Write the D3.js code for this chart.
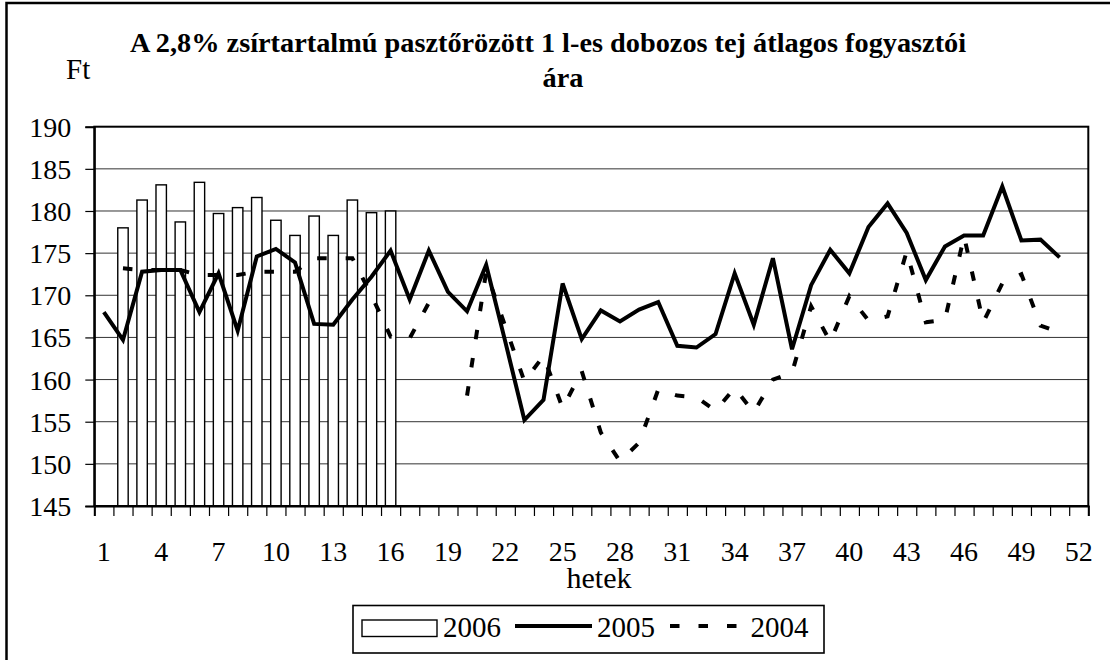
<!DOCTYPE html>
<html>
<head>
<meta charset="utf-8">
<script src="https://cdn.jsdelivr.net/npm/d3@7/dist/d3.min.js"></script>
<style>
  html, body { margin: 0; padding: 0; background: #fff; }
  svg { display: block; }
</style>
</head>
<body>
<svg id="chart" width="1110" height="660"></svg>
<script>
// ---------- DATA ----------
const weeks = [1,2,3,4,5,6,7,8,9,10,11,12,13,14,15,16,17,18,19,20,21,22,23,24,25,26,
               27,28,29,30,31,32,33,34,35,36,37,38,39,40,41,42,43,44,45,46,47,48,49,50,51,52];
const xTickLabels = [1,4,7,10,13,16,19,22,25,28,31,34,37,40,43,46,49,52];
const yTicks = [145,150,155,160,165,170,175,180,185,190];

const v2006 = [null,178.0,181.3,183.1,178.7,183.4,179.7,180.4,181.6,178.9,
               177.1,179.4,177.1,181.3,179.8,180.0,null,null,null,null,
               null,null,null,null,null,null,null,null,null,null,
               null,null,null,null,null,null,null,null,null,null,
               null,null,null,null,null,null,null,null,null,null,
               null,null];
const v2005 = [168.0,164.7,172.8,173.0,173.0,168.0,172.6,165.8,174.6,175.5,
               173.9,166.6,166.5,169.5,172.2,175.3,169.5,175.3,170.4,168.1,
               173.6,164.5,155.2,157.6,171.4,164.8,168.2,166.9,168.3,169.2,
               164.0,163.8,165.4,172.6,166.5,174.4,163.6,171.2,175.4,172.6,
               178.1,180.9,177.4,171.8,175.8,177.1,177.1,182.9,176.5,176.6,
               174.5,null];
const v2004 = [null,173.2,173.0,173.0,173.0,172.4,172.4,172.4,172.8,172.8,
               172.8,174.4,174.4,174.4,170.0,165.1,164.9,169.1,null,158.1,
               172.8,166.3,159.8,162.8,156.6,161.0,153.7,150.3,152.5,158.8,
               158.1,157.9,156.3,159.0,156.1,160.0,160.8,168.7,164.5,169.9,
               167.0,167.5,175.2,166.8,167.1,177.0,166.8,171.4,172.5,166.4,
               165.6,null];
const seriesNames = ["2006","2005","2004"];
const titleLines = ["A 2,8% zsírtartalmú pasztőrözött 1 l-es dobozos tej átlagos fogyasztói", "ára"];
const yAxisTitle = "Ft";
const xAxisTitle = "hetek";

// ---------- LAYOUT ----------
const FONT = "'Liberation Serif', 'Tinos', 'Times New Roman'";
const svg = d3.select("#chart");
const L = 94.3, R = 1088.3, T = 126.7, B = 506;

const x = d3.scaleBand().domain(weeks).range([L, R])
  .paddingInner(0.455).paddingOuter(0.2275);
const xc = w => x(w) + x.bandwidth() / 2;
const xEdge = d3.scaleLinear().domain([0, weeks.length]).range([L, R]);
const y = d3.scaleLinear().domain([145, 190]).range([B, T]);

// outer frame
svg.append("rect").attr("x", 6.5).attr("y", 3).attr("width", 1200).attr("height", 800)
  .attr("fill", "none").attr("stroke", "#000").attr("stroke-width", 2.5);

// gridlines
svg.append("g").selectAll("line").data(yTicks.filter(t => t > 145 && t < 190)).join("line")
  .attr("x1", L).attr("x2", R).attr("y1", d => y(d)).attr("y2", d => y(d))
  .attr("stroke", "#333").attr("stroke-width", 1);

// bars (2006)
const barData = weeks.map((w, i) => ({w, v: v2006[i]})).filter(d => d.v != null);
svg.append("g").selectAll("rect").data(barData).join("rect")
  .attr("x", d => x(d.w)).attr("width", x.bandwidth())
  .attr("y", d => y(d.v)).attr("height", d => B - y(d.v))
  .attr("fill", "#fff").attr("stroke", "#000").attr("stroke-width", 1.4);

// lines
const line = d3.line().defined(d => d.v != null).x(d => xc(d.w)).y(d => y(d.v));
svg.append("path").datum(weeks.map((w, i) => ({w, v: v2004[i]})))
  .attr("d", line).attr("fill", "none").attr("stroke", "#000")
  .attr("stroke-width", 4).attr("stroke-dasharray", "9.5,19");
svg.append("path").datum(weeks.map((w, i) => ({w, v: v2005[i]})))
  .attr("d", line).attr("fill", "none").attr("stroke", "#000")
  .attr("stroke-width", 4).attr("stroke-linejoin", "miter");

// plot border
svg.append("rect").attr("x", L).attr("y", T).attr("width", R - L).attr("height", B - T)
  .attr("fill", "none").attr("stroke", "#000").attr("stroke-width", 2);

// y axis
const yAxis = svg.append("g").attr("transform", `translate(${L},0)`)
  .call(d3.axisLeft(y).tickValues(yTicks).tickSize(9).tickPadding(14).tickFormat(d3.format("d")));
yAxis.select(".domain").attr("stroke-width", 2);
yAxis.selectAll(".tick line").attr("stroke-width", 1.2);
yAxis.selectAll("text").attr("dy", "0.34em").style("font-size", "28px");

// x axis ticks at category boundaries
const xTicksG = svg.append("g").attr("transform", `translate(0,${B})`)
  .call(d3.axisBottom(xEdge).tickValues(d3.range(0, weeks.length + 1)).tickSize(10).tickFormat(""));
xTicksG.select(".domain").attr("stroke-width", 2);
xTicksG.selectAll(".tick line").attr("stroke-width", 1.2);

// x labels
const xLab = svg.append("g").attr("transform", `translate(0,${B})`)
  .call(d3.axisBottom(x).tickValues(xTickLabels).tickSize(0).tickPadding(0));
xLab.select(".domain").remove();
xLab.selectAll("text").attr("dy", null).attr("y", 54.5).style("font-size", "28px");

// titles
svg.append("text").attr("x", 548).attr("y", 51.7).attr("text-anchor", "middle")
  .style("font-weight", "bold").style("font-size", "28.3px").text(titleLines[0]);
svg.append("text").attr("x", 563).attr("y", 86.7).attr("text-anchor", "middle")
  .style("font-weight", "bold").style("font-size", "28.3px").text(titleLines[1]);
svg.append("text").attr("x", 66).attr("y", 79.3).style("font-size", "29px").text(yAxisTitle);
svg.append("text").attr("x", 599).attr("y", 587.5).attr("text-anchor", "middle")
  .style("font-size", "30px").text(xAxisTitle);

// legend
const lg = svg.append("g");
lg.append("rect").attr("x", 353).attr("y", 605.5).attr("width", 471).attr("height", 47.5)
  .attr("fill", "#fff").attr("stroke", "#000").attr("stroke-width", 1.6);
lg.append("rect").attr("x", 362).attr("y", 620).attr("width", 75).attr("height", 16.5)
  .attr("fill", "#fff").attr("stroke", "#000").attr("stroke-width", 1.4);
lg.append("text").attr("x", 443).attr("y", 637).style("font-size", "29px").text(seriesNames[0]);
lg.append("line").attr("x1", 515).attr("x2", 592).attr("y1", 626).attr("y2", 626)
  .attr("stroke", "#000").attr("stroke-width", 4);
lg.append("text").attr("x", 597).attr("y", 637).style("font-size", "29px").text(seriesNames[1]);
lg.append("line").attr("x1", 670).attr("x2", 737).attr("y1", 626).attr("y2", 626)
  .attr("stroke", "#000").attr("stroke-width", 4).attr("stroke-dasharray", "9.5,19");
lg.append("text").attr("x", 750.5).attr("y", 637).style("font-size", "29px").text(seriesNames[2]);

// fonts applied inline on every text
svg.selectAll("text").style("font-family", FONT).attr("fill", "#000");
</script>
</body>
</html>
